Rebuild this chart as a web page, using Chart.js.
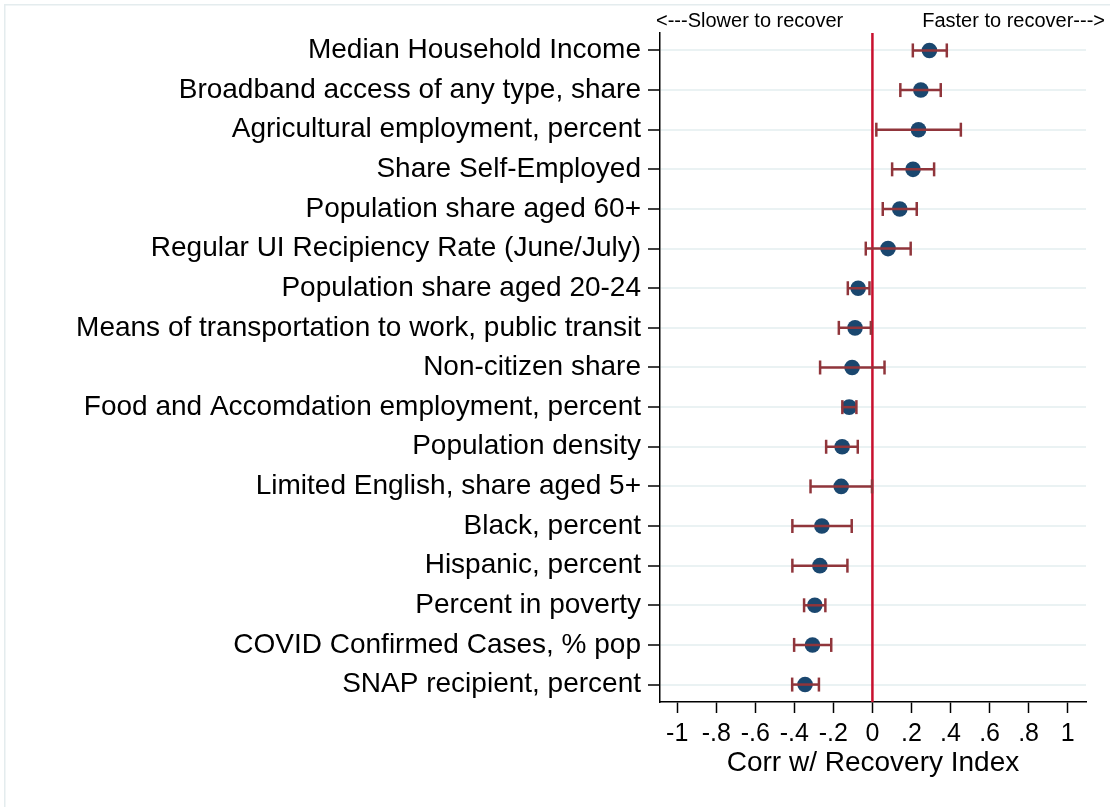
<!DOCTYPE html>
<html>
<head>
<meta charset="utf-8">
<title>Corr w/ Recovery Index</title>
<script src="https://cdn.jsdelivr.net/npm/chart.js@4.4.1/dist/chart.umd.min.js"></script>
<style>
  html, body { margin: 0; padding: 0; background: #ffffff; }
  #wrap { position: relative; width: 1110px; height: 807px; }
</style>
</head>
<body>
<div id="wrap"><canvas id="chart"></canvas></div>
<script>
// Indicators, listed top to bottom
const categories = [
  'Median Household Income',
  'Broadband access of any type, share',
  'Agricultural employment, percent',
  'Share Self-Employed',
  'Population share aged 60+',
  'Regular UI Recipiency Rate (June/July)',
  'Population share aged 20-24',
  'Means of transportation to work, public transit',
  'Non-citizen share',
  'Food and Accomdation employment, percent',
  'Population density',
  'Limited English, share aged 5+',
  'Black, percent',
  'Hispanic, percent',
  'Percent in poverty',
  'COVID Confirmed Cases, % pop',
  'SNAP recipient, percent'
];

// Correlation with the recovery index and its confidence interval
const estimates = [0.292, 0.248, 0.236, 0.208, 0.140, 0.080, -0.073, -0.089, -0.104, -0.119, -0.155, -0.160, -0.259, -0.269, -0.295, -0.307, -0.345];
const ciLow     = [0.207, 0.143, 0.020, 0.101, 0.053, -0.034, -0.126, -0.172, -0.268, -0.154, -0.237, -0.317, -0.410, -0.410, -0.350, -0.401, -0.411];
const ciHigh    = [0.381, 0.350, 0.453, 0.316, 0.227, 0.196, -0.015, -0.008, 0.062, -0.082, -0.075, -0.002, -0.106, -0.128, -0.241, -0.211, -0.274];

// Axis ticks and texts
const xTickValues = [-1, -0.8, -0.6, -0.4, -0.2, 0, 0.2, 0.4, 0.6, 0.8, 1];
const xTitle = 'Corr w/ Recovery Index';
const leftNote = '<---Slower to recover';
const rightNote = 'Faster to recover--->';

const FONT = '"Liberation Sans", Arial, Helvetica, sans-serif';
const NAVY = '#1a476f';
const MAROON = '#90353b';
const ZERO_RED = '#c8102e';
const GRID = '#eaf2f3';

const X_MIN = -1.088, X_MAX = 1.094;
const Y_MIN = 0.56, Y_MAX = categories.length + 0.44;

function fmtTick(v) {
  const r = Math.round(v * 10) / 10;
  if (r === 0) return '0';
  return String(r).replace(/^(-?)0\./, '$1.');
}

// Confidence interval whiskers, one line per indicator with capped ends
const ciSets = categories.map((c, i) => ({
  label: c + ' CI',
  data: [{ x: ciLow[i], y: i + 1 }, { x: ciHigh[i], y: i + 1 }],
  showLine: true,
  borderColor: MAROON,
  borderWidth: 2.5,
  pointStyle: 'line',
  rotation: 90,
  pointRadius: 7,
  pointBorderColor: MAROON,
  pointBorderWidth: 2.5,
  pointBackgroundColor: MAROON,
  order: 1
}));

const pageDecor = {
  id: 'pageDecor',
  beforeDraw(chart) {
    const ctx = chart.ctx;
    ctx.save();
    ctx.fillStyle = '#ffffff';
    ctx.fillRect(0, 0, chart.width, chart.height);
    ctx.strokeStyle = '#e4ecee';
    ctx.lineWidth = 1.5;
    ctx.beginPath();
    ctx.moveTo(4.75, chart.height);
    ctx.lineTo(4.75, 4.75);
    ctx.lineTo(chart.width, 4.75);
    ctx.stroke();
    ctx.restore();
  },
  afterDraw(chart) {
    const ctx = chart.ctx;
    const area = chart.chartArea;
    ctx.save();
    ctx.fillStyle = '#000000';
    ctx.font = '20px ' + FONT;
    ctx.textBaseline = 'middle';
    ctx.textAlign = 'left';
    ctx.fillText(leftNote, area.left - 4, 21.5);
    ctx.textAlign = 'right';
    ctx.fillText(rightNote, area.right + 19, 21.5);
    ctx.restore();
  }
};

new Chart(document.getElementById('chart'), {
  type: 'scatter',
  data: {
    datasets: [
      {
        label: 'zero',
        data: [{ x: 0, y: Y_MIN }, { x: 0, y: Y_MAX }],
        showLine: true,
        borderColor: ZERO_RED,
        borderWidth: 2.5,
        pointRadius: 0,
        order: 3
      },
      {
        label: 'Correlation',
        data: categories.map((c, i) => ({ x: estimates[i], y: i + 1 })),
        pointRadius: 7.8,
        pointBackgroundColor: NAVY,
        pointBorderWidth: 0,
        borderWidth: 0,
        order: 2
      },
      ...ciSets
    ]
  },
  options: {
    responsive: true,
    maintainAspectRatio: false,
    animation: false,
    events: [],
    layout: { padding: { top: 33, right: 24, bottom: 0, left: 0 } },
    plugins: {
      legend: { display: false },
      tooltip: { enabled: false }
    },
    scales: {
      x: {
        type: 'linear',
        min: X_MIN,
        max: X_MAX,
        afterBuildTicks: axis => { axis.ticks = xTickValues.map(v => ({ value: v })); },
        afterFit: axis => { axis.height = 105; },
        ticks: {
          autoSkip: false,
          maxRotation: 0,
          padding: 6,
          color: '#000000',
          font: { family: FONT, size: 25 },
          callback: v => fmtTick(v)
        },
        grid: {
          display: true,
          drawOnChartArea: false,
          drawTicks: true,
          tickLength: 11,
          tickColor: '#000000',
          tickWidth: 1.5
        },
        border: { display: true, color: '#000000', width: 1.5 },
        title: {
          display: true,
          text: xTitle,
          color: '#000000',
          font: { family: FONT, size: 28 },
          padding: { top: 0, bottom: 27 }
        }
      },
      y: {
        type: 'linear',
        reverse: true,
        min: Y_MIN,
        max: Y_MAX,
        afterBuildTicks: axis => { axis.ticks = categories.map((c, i) => ({ value: i + 1 })); },
        afterFit: axis => { axis.width = 660; },
        ticks: {
          autoSkip: false,
          padding: 7,
          color: '#000000',
          font: { family: FONT, size: 28 },
          callback: v => categories[Math.round(v) - 1]
        },
        grid: {
          display: true,
          drawOnChartArea: true,
          color: GRID,
          lineWidth: 2,
          drawTicks: true,
          tickLength: 12,
          tickColor: '#000000',
          tickWidth: 1.5
        },
        border: { display: true, color: '#000000', width: 1.5 }
      }
    }
  },
  plugins: [pageDecor]
});
</script>
</body>
</html>
